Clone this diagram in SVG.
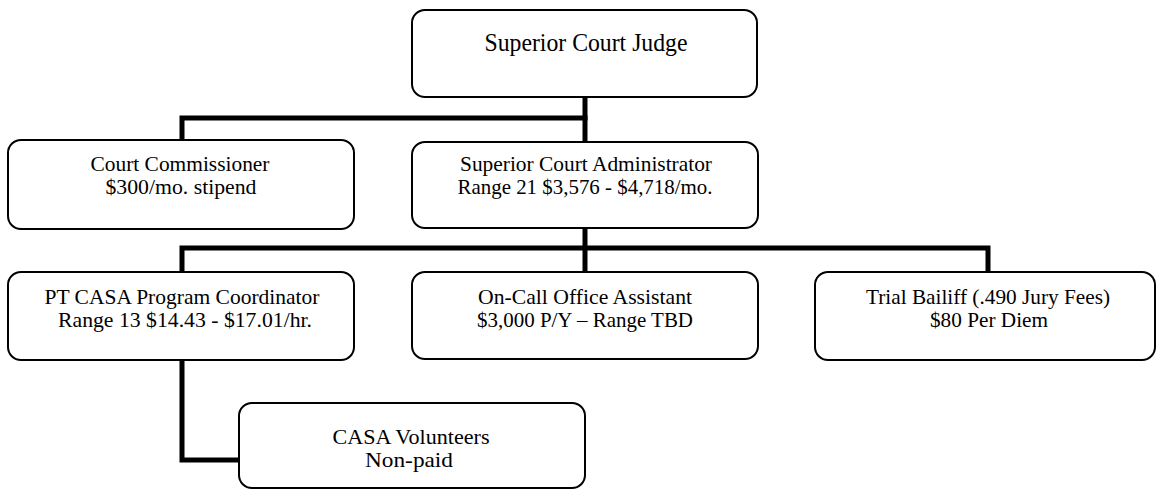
<svg xmlns="http://www.w3.org/2000/svg" width="1156" height="490" viewBox="0 0 1156 490">
<style>
.box{fill:#fff;stroke:#000;stroke-width:2}
.t{font-family:"Liberation Serif","Times New Roman",serif;font-size:22px;fill:#000;text-anchor:middle}
.big{font-size:25px}
.c{fill:none;stroke:#000;stroke-width:5;stroke-linecap:square}
</style>
<rect width="1156" height="490" fill="#fff"/>
<g id="connectors">
<path class="c" d="M585,97 V142"/>
<path class="c" d="M182,140 V118 H585"/>
<path class="c" d="M585,228 V272"/>
<path class="c" d="M182,272 V248 H988 V272"/>
<path class="c" d="M182,360 V460 H239"/>
</g>
<g id="judge">
<rect class="box" x="412" y="10" width="345" height="87" rx="13"/>
<text class="t big" x="586" y="51" textLength="203" lengthAdjust="spacingAndGlyphs">Superior Court Judge</text>
</g>
<g id="commissioner">
<rect class="box" x="8" y="140" width="346" height="89" rx="13"/>
<text class="t" x="180" y="171" textLength="179" lengthAdjust="spacingAndGlyphs">Court Commissioner</text>
<text class="t" x="181" y="194" textLength="151" lengthAdjust="spacingAndGlyphs">$300/mo. stipend</text>
</g>
<g id="administrator">
<rect class="box" x="412" y="142" width="346" height="86" rx="13"/>
<text class="t" x="586" y="171" textLength="252" lengthAdjust="spacingAndGlyphs">Superior Court Administrator</text>
<text class="t" x="585" y="194" textLength="255" lengthAdjust="spacingAndGlyphs">Range 21 $3,576 - $4,718/mo.</text>
</g>
<g id="casa-coordinator">
<rect class="box" x="8" y="272" width="346" height="88" rx="13"/>
<text class="t" x="182" y="304" textLength="275" lengthAdjust="spacingAndGlyphs">PT CASA Program Coordinator</text>
<text class="t" x="185" y="327" textLength="254" lengthAdjust="spacingAndGlyphs">Range 13 $14.43 - $17.01/hr.</text>
</g>
<g id="office-assistant">
<rect class="box" x="412" y="272" width="346" height="87" rx="13"/>
<text class="t" x="585" y="304" textLength="214" lengthAdjust="spacingAndGlyphs">On-Call Office Assistant</text>
<text class="t" x="585" y="327" textLength="216" lengthAdjust="spacingAndGlyphs">$3,000 P/Y – Range TBD</text>
</g>
<g id="bailiff">
<rect class="box" x="815" y="272" width="340" height="88" rx="13"/>
<text class="t" x="988" y="304" textLength="244" lengthAdjust="spacingAndGlyphs">Trial Bailiff (.490 Jury Fees)</text>
<text class="t" x="989" y="327" textLength="118" lengthAdjust="spacingAndGlyphs">$80 Per Diem</text>
</g>
<g id="casa-volunteers">
<rect class="box" x="239" y="403" width="346" height="85" rx="13"/>
<text class="t" x="411" y="444" textLength="157" lengthAdjust="spacingAndGlyphs">CASA Volunteers</text>
<text class="t" x="409" y="467" textLength="88" lengthAdjust="spacingAndGlyphs">Non-paid</text>
</g>
</svg>
